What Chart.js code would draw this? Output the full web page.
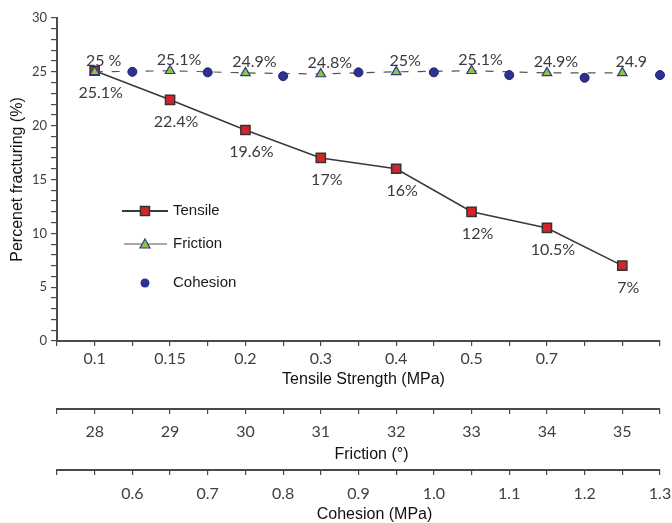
<!DOCTYPE html>
<html>
<head>
<meta charset="utf-8">
<title>Percent fracturing</title>
<script src="https://cdn.jsdelivr.net/npm/chart.js@4.4.1/dist/chart.umd.min.js"></script>
<style>
  html, body { margin: 0; padding: 0; background: #fff; }
  #wrap { width: 672px; height: 523px; }
</style>
</head>
<body>
<div id="wrap"><canvas id="fractureChart" width="672" height="523"></canvas></div>
<script>
// Tensile strength categories and their fracturing percentages
const tensileLabels = ['0.1', '0.15', '0.2', '0.3', '0.4', '0.5', '0.7', ''];
const tensileValues = [25.1, 22.4, 19.6, 17, 16, 12, 10.5, 7];

// Friction angle (degrees) series
const frictionAngles = [28, 29, 30, 31, 32, 33, 34, 35];
const frictionValues = [25, 25.1, 24.9, 24.8, 25, 25.1, 24.9, 24.9];
const frictionText = ['25 %', '25.1%', '24.9%', '24.8%', '25%', '25.1%', '24.9%', '24.9'];

// Cohesion (MPa) series
const cohesionMPa = [0.6, 0.7, 0.8, 0.9, 1.0, 1.1, 1.2, 1.3];
const cohesionValues = [25, 24.95, 24.6, 24.95, 24.95, 24.7, 24.45, 24.7];

// Labelled ticks on the percentage axis
const yTicks = [0, 5, 10, 15, 20, 25, 30];

const axisColor = '#4a4a4a';
const tickFont = { family: 'Lato', size: 16 };
const titleFont = { family: 'Liberation Sans', size: 16, lineHeight: 1 };

// bottom axis titles: [scale id, text, horizontal nudge, distance above scale bottom]
const bottomTitles = [
    ['x', 'Tensile Strength (MPa)', 5, 29],
    ['xF', 'Friction (°)', 13, 15],
    ['xC', 'Cohesion (MPa)', 16, 8]
];

// value labels next to the tensile and friction markers
const pointLabels = {
    id: 'pointLabels',
    afterDatasetsDraw(chart) {
        const ctx = chart.ctx;
        ctx.save();
        ctx.font = '16px Lato';
        ctx.fillStyle = '#3a3a3a';
        ctx.textAlign = 'center';
        ctx.textBaseline = 'middle';
        chart.getDatasetMeta(0).data.forEach((pt, i) => {
            ctx.fillText(tensileValues[i] + '%', pt.x + 6, pt.y + 22);
        });
        chart.getDatasetMeta(1).data.forEach((pt, i) => {
            ctx.fillText(frictionText[i], pt.x + 9, pt.y - 11);
        });
        ctx.restore();
    }
};

// titles under the three stacked x axes (space is reserved by each scale's title box)
const axisTitles = {
    id: 'axisTitles',
    afterDraw(chart) {
        const ctx = chart.ctx;
        ctx.save();
        ctx.font = '16px "Liberation Sans"';
        ctx.fillStyle = '#111';
        ctx.textAlign = 'center';
        ctx.textBaseline = 'middle';
        bottomTitles.forEach(([id, text, dx, up]) => {
            const s = chart.scales[id];
            ctx.fillText(text, (s.left + s.right) / 2 + dx, s.bottom - up);
        });
        ctx.restore();
    }
};

// legend drawn inside the plot, left side
const insideLegend = {
    id: 'insideLegend',
    afterDraw(chart) {
        const { ctx, chartArea } = chart;
        const x0 = chartArea.left + 65;
        const x1 = chartArea.left + 111;
        const mx = (x0 + x1) / 2;
        const tx = chartArea.left + 116;
        const rows = [chartArea.top + 193, chartArea.top + 226, chartArea.top + 265];
        ctx.save();

        // Tensile: solid line + red square
        ctx.strokeStyle = '#3a3a3a';
        ctx.lineWidth = 2;
        ctx.beginPath();
        ctx.moveTo(x0, rows[0]);
        ctx.lineTo(x1, rows[0]);
        ctx.stroke();
        ctx.fillStyle = '#d0262b';
        ctx.fillRect(mx - 4.5, rows[0] - 4.5, 9, 9);
        ctx.lineWidth = 1.5;
        ctx.strokeStyle = '#333';
        ctx.strokeRect(mx - 4.5, rows[0] - 4.5, 9, 9);

        // Friction: thin line + triangle
        ctx.strokeStyle = '#555';
        ctx.lineWidth = 1;
        ctx.beginPath();
        ctx.moveTo(x0 + 2, rows[1]);
        ctx.lineTo(x1 - 1, rows[1]);
        ctx.stroke();
        ctx.beginPath();
        ctx.moveTo(mx, rows[1] - 5);
        ctx.lineTo(mx - 5, rows[1] + 4);
        ctx.lineTo(mx + 5, rows[1] + 4);
        ctx.closePath();
        ctx.fillStyle = '#8dc63f';
        ctx.fill();
        ctx.strokeStyle = '#2e3a8c';
        ctx.lineWidth = 1.2;
        ctx.stroke();

        // Cohesion: circle only
        ctx.beginPath();
        ctx.arc(mx, rows[2], 4.5, 0, Math.PI * 2);
        ctx.fillStyle = '#2e3192';
        ctx.fill();

        ctx.font = '15px "Liberation Sans"';
        ctx.fillStyle = '#1a1a1a';
        ctx.textAlign = 'left';
        ctx.textBaseline = 'middle';
        ctx.fillText('Tensile', tx, rows[0]);
        ctx.fillText('Friction', tx, rows[1]);
        ctx.fillText('Cohesion', tx, rows[2]);
        ctx.restore();
    }
};

const ctx = document.getElementById('fractureChart').getContext('2d');
new Chart(ctx, {
    type: 'line',
    data: {
        datasets: [
            {
                label: 'Tensile',
                data: tensileValues.map((v, i) => ({ x: i + 0.5, y: v })),
                xAxisID: 'x',
                borderColor: '#3a3a3a',
                borderWidth: 1.6,
                tension: 0,
                pointStyle: 'rect',
                pointRadius: 6.5,
                pointBackgroundColor: '#d0262b',
                pointBorderColor: '#333',
                pointBorderWidth: 1.5,
                order: 2
            },
            {
                label: 'Friction',
                data: frictionAngles.map((a, i) => ({ x: a, y: frictionValues[i] })),
                xAxisID: 'xF',
                borderColor: '#555',
                borderWidth: 1.2,
                borderDash: [8, 9],
                tension: 0,
                pointStyle: 'triangle',
                pointRadius: 5.5,
                pointBackgroundColor: '#8dc63f',
                pointBorderColor: '#2e3a8c',
                pointBorderWidth: 1.2,
                order: 1
            },
            {
                label: 'Cohesion',
                data: cohesionMPa.map((c, i) => ({ x: c, y: cohesionValues[i] })),
                xAxisID: 'xC',
                showLine: false,
                pointStyle: 'circle',
                pointRadius: 4.5,
                pointBackgroundColor: '#2e3192',
                pointBorderColor: '#1f2366',
                pointBorderWidth: 1,
                clip: false,
                order: 0
            }
        ]
    },
    options: {
        responsive: false,
        animation: false,
        layout: { padding: { top: 18, right: 12, bottom: 0, left: 0 } },
        plugins: {
            legend: { display: false },
            tooltip: { enabled: false }
        },
        scales: {
            y: {
                type: 'linear',
                position: 'left',
                min: 0,
                max: 30,
                ticks: {
                    stepSize: 1,
                    autoSkip: false,
                    padding: 4,
                    color: '#404040',
                    font: { family: 'Lato', size: 13 },
                    callback: v => (yTicks.includes(v) ? v : '')
                },
                grid: { drawOnChartArea: false, tickLength: 6, color: axisColor, lineWidth: 1.2 },
                border: { color: axisColor, width: 2 },
                title: {
                    display: true,
                    text: 'Percenet fracturing (%)',
                    color: '#111',
                    font: titleFont,
                    padding: { top: 9.5, bottom: 2.4 }
                }
            },
            x: {
                type: 'linear',
                position: 'bottom',
                weight: 0,
                min: 0,
                max: tensileLabels.length,
                ticks: {
                    stepSize: 0.5,
                    autoSkip: false,
                    maxRotation: 0,
                    padding: 3,
                    color: '#404040',
                    font: tickFont,
                    callback: v => {
                        const i = v - 0.5;
                        return Number.isInteger(i) ? tensileLabels[i] : '';
                    }
                },
                grid: { drawOnChartArea: false, tickLength: 5, color: axisColor, lineWidth: 1.2 },
                border: { color: axisColor, width: 2 },
                title: { display: true, text: '', font: titleFont, padding: { top: 0.8, bottom: 21 } }
            },
            xF: {
                type: 'linear',
                position: 'bottom',
                weight: 1,
                min: 27.5,
                max: 35.5,
                ticks: {
                    stepSize: 0.5,
                    autoSkip: false,
                    maxRotation: 0,
                    padding: 8.1,
                    color: '#404040',
                    font: tickFont,
                    callback: v => (frictionAngles.includes(v) ? v : '')
                },
                grid: { drawOnChartArea: false, tickLength: 5, color: axisColor, lineWidth: 1.2 },
                border: { color: axisColor, width: 2 },
                title: { display: true, text: '', font: titleFont, padding: { top: -2.4, bottom: 7 } }
            },
            xC: {
                type: 'linear',
                position: 'bottom',
                weight: 2,
                min: 0.5,
                max: 1.3,
                ticks: {
                    stepSize: 0.05,
                    autoSkip: false,
                    maxRotation: 0,
                    padding: 9,
                    color: '#404040',
                    font: tickFont,
                    callback: v => (cohesionMPa.some(c => Math.abs(c - v) < 1e-6) ? v.toFixed(1) : '')
                },
                grid: { drawOnChartArea: false, tickLength: 5, color: axisColor, lineWidth: 1.2 },
                border: { color: axisColor, width: 2 },
                title: { display: true, text: '', font: titleFont, padding: { top: -5.2, bottom: 0 } },
                // let the last label ("1.3") hang into the right margin
                afterFit: scale => { scale.paddingRight = 0; }
            }
        }
    },
    plugins: [pointLabels, axisTitles, insideLegend]
});
</script>
</body>
</html>
